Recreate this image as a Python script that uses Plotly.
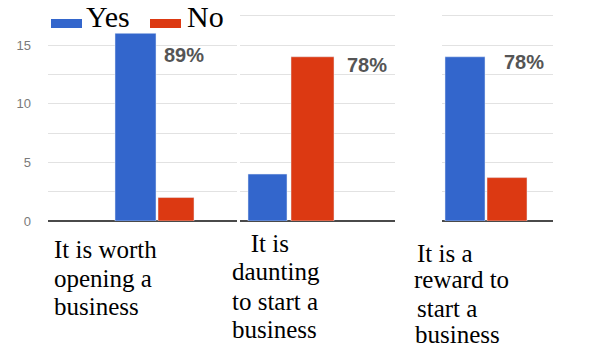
import plotly.graph_objects as go

# ---- data ----
categories = ["It is worth opening a business",
              "It is daunting to start a business",
              "It is a reward to start a business"]
category_lines = [["It is worth", "opening a", "business"],
                  ["\u00a0\u00a0\u00a0It is", "daunting", "to start a", "business"],
                  ["It is a", "reward to", "start a", "business"]]
series_names = ["Yes", "No"]
yes_values = [16, 4, 14]
no_values = [2, 14, 3.7]
pct_labels = ["89%", "78%", "78%"]
y_tick_vals = [0, 2.5, 5, 7.5, 10, 12.5, 15, 17.5]
y_tick_text = ["0", "", "5", "", "10", "", "15", ""]

# ---- styling / layout helpers (pixel geometry of the 599x349 canvas) ----
W, H = 599, 349
BLUE, RED = "#3366CC", "#DC3912"
def px(x): return x / W
def py(y): return 1 - y / H

y0_px, px_per_unit = 221, 11.73
y_top = y0_px / px_per_unit

panels = [  # domain px, group-centre px, (yes offset,width), (no offset,width)
    dict(dom=(48, 237), c=157, yo=(-0.42, 0.41), no=(0.01, 0.36), ymax=15),
    dict(dom=(240, 395), c=289, yo=(-0.41, 0.39), no=(0.02, 0.43), ymax=17.5),
    dict(dom=(442, 553), c=486, yo=(-0.41, 0.40), no=(0.01, 0.40), ymax=17.5),
]
pct_pos = [(184, 55), (367, 65), (524, 62)]
label_pos = [[(52, 259), (52, 288), (52, 316)],
             [(230, 253), (230, 281), (230, 311), (230, 339)],
             [(415, 263), (412, 289), (415, 318), (413, 344)]]

fig = go.Figure()
for i, p in enumerate(panels):
    xa = "x" if i == 0 else f"x{i+1}"
    ya = "y" if i == 0 else f"y{i+1}"
    fig.add_trace(go.Bar(x=[categories[i]], y=[yes_values[i]], name=series_names[0],
                         marker_color=BLUE, offset=p["yo"][0], width=p["yo"][1],
                         xaxis=xa, yaxis=ya, showlegend=False))
    fig.add_trace(go.Bar(x=[categories[i]], y=[no_values[i]], name=series_names[1],
                         marker_color=RED, offset=p["no"][0], width=p["no"][1],
                         xaxis=xa, yaxis=ya, showlegend=False))
    d0, d1 = p["dom"]
    xr = [(d0 - p["c"]) / 100, (d1 - p["c"]) / 100]
    key = "" if i == 0 else str(i + 1)
    tv = [v for v in y_tick_vals if v <= p["ymax"]]
    tt = [y_tick_text[y_tick_vals.index(v)] for v in tv]
    fig.layout["xaxis" + key] = dict(domain=[px(d0), px(d1)], range=xr, type="category",
                                     showticklabels=False, showgrid=False, zeroline=False,
                                     showline=False, anchor=ya, fixedrange=True)
    fig.layout["yaxis" + key] = dict(domain=[py(y0_px), 1], range=[0, y_top], anchor=xa,
                                     tickmode="array", tickvals=tv, ticktext=tt,
                                     showticklabels=(i == 0), gridcolor="#e2e2e2", gridwidth=1,
                                     zeroline=True, zerolinecolor="#4a4a4a", zerolinewidth=2,
                                     showline=False,
                                     tickfont=dict(family="Arial", size=13, color="#7a7a7a"),
                                     ticklabelstandoff=16, fixedrange=True)

annotations = []
for (x, y), t in zip(pct_pos, pct_labels):
    annotations.append(dict(x=px(x), y=py(y), xref="paper", yref="paper", text="<b>%s</b>" % t,
                            showarrow=False, xanchor="center", yanchor="middle",
                            font=dict(family="Arial", size=20, color="#555555")))
for lines, poss in zip(category_lines, label_pos):
    for line, (x, yb) in zip(lines, poss):
        annotations.append(dict(x=px(x), y=py(yb + 6), xref="paper", yref="paper", text=line,
                                showarrow=False, xanchor="left", yanchor="bottom",
                                font=dict(family="Liberation Serif", size=25, color="#000000")))
# legend
legend_items = [(51, BLUE, 84), (150, RED, 185)]
shapes = []
for (x, col, tx), name in zip(legend_items, series_names):
    shapes.append(dict(type="rect", xref="paper", yref="paper", x0=px(x), x1=px(x + 31),
                       y0=py(28), y1=py(19), fillcolor=col, line=dict(width=0)))
    annotations.append(dict(x=px(tx), y=py(35), xref="paper", yref="paper", text=name,
                            showarrow=False, xanchor="left", yanchor="bottom",
                            font=dict(family="Liberation Serif", size=30, color="#000000")))

fig.update_layout(width=W, height=H, margin=dict(l=0, r=0, t=0, b=0, autoexpand=False),
                  paper_bgcolor="white", plot_bgcolor="white", barmode="overlay",
                  annotations=annotations, shapes=shapes, showlegend=False)
fig.write_html("out.html", config={"displayModeBar": False},
               post_script="document.body.style.margin='0';document.body.style.overflow='hidden';")
